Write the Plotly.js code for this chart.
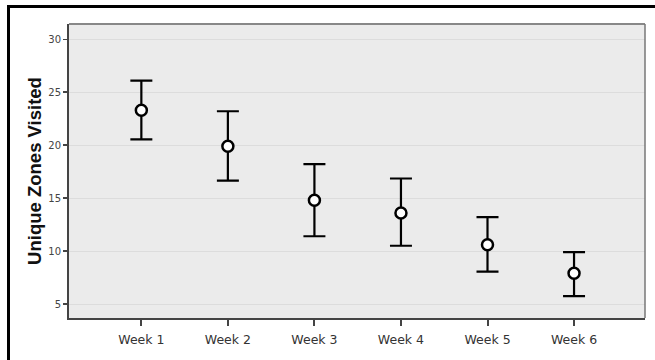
<!DOCTYPE html>
<html>
<head>
<meta charset="utf-8">
<script src="https://cdn.plot.ly/plotly-3.0.1.min.js"></script>
<style>
html,body{margin:0;padding:0;background:#fff;}
#chart{position:absolute;left:0;top:0;width:655px;height:360px;}
#frame{position:absolute;left:7px;top:5px;width:660px;height:370px;border-top:3px solid #000;border-left:3px solid #000;pointer-events:none;}
</style>
</head>
<body>
<div id="chart"></div>
<div id="frame"></div>
<script>
const weeks = ["Week 1", "Week 2", "Week 3", "Week 4", "Week 5", "Week 6"];
const means = [23.3, 19.9, 14.8, 13.6, 10.6, 7.9];
const upper = [26.1, 23.2, 18.2, 16.85, 13.2, 9.9];
const lower = [20.55, 16.65, 11.4, 10.5, 8.05, 5.75];
const yTicks = [5, 10, 15, 20, 25, 30];

const plus = means.map((m, i) => upper[i] - m);
const minus = means.map((m, i) => m - lower[i]);

const trace = {
  type: 'scatter',
  mode: 'markers',
  x: weeks,
  y: means,
  marker: {symbol: 'circle', size: 11, color: '#ffffff', line: {color: '#000000', width: 2.5}},
  error_y: {type: 'data', symmetric: false, array: plus, arrayminus: minus,
            color: '#000000', thickness: 2.2, width: 11},
  showlegend: false,
  hoverinfo: 'none'
};

const layout = {
  width: 655, height: 360,
  margin: {l: 69, r: 10, t: 24, b: 42},
  paper_bgcolor: '#ffffff',
  plot_bgcolor: '#ebebeb',
  font: {family: 'DejaVu Sans, sans-serif', color: '#333333'},
  xaxis: {
    type: 'category',
    range: [-0.836, 5.82],
    showgrid: false,
    zeroline: false,
    showline: true, linecolor: '#444444', linewidth: 2, mirror: false,
    ticks: 'outside', ticklen: 6, tickwidth: 2, tickcolor: '#444444',
    ticklabelstandoff: 3,
    tickfont: {family: 'DejaVu Sans, sans-serif', size: 12.5, color: '#333333'}
  },
  yaxis: {
    range: [3.68, 31.44],
    tickvals: yTicks,
    showgrid: true, gridcolor: '#dcdcdc', gridwidth: 1,
    zeroline: false,
    showline: true, linecolor: '#444444', linewidth: 2,
    ticks: 'outside', ticklen: 4, tickwidth: 1.5, tickcolor: '#444444',
    tickfont: {family: 'DejaVu Sans, sans-serif', size: 10, color: '#444444'},
    title: {text: '<b>Unique Zones Visited</b>', font: {family: 'Liberation Sans, Arial, sans-serif', size: 18.5, color: '#111111'}, standoff: 2}
  },
  shapes: [
    {type: 'line', xref: 'paper', yref: 'paper', x0: 0, x1: 1, y0: 1, y1: 1, line: {color: '#888888', width: 2}},
    {type: 'line', xref: 'paper', yref: 'paper', x0: 1, x1: 1, y0: 0, y1: 1, line: {color: '#777777', width: 1.5}}
  ]
};

Plotly.newPlot('chart', [trace], layout, {displayModeBar: false, staticPlot: true});
</script>
</body>
</html>
